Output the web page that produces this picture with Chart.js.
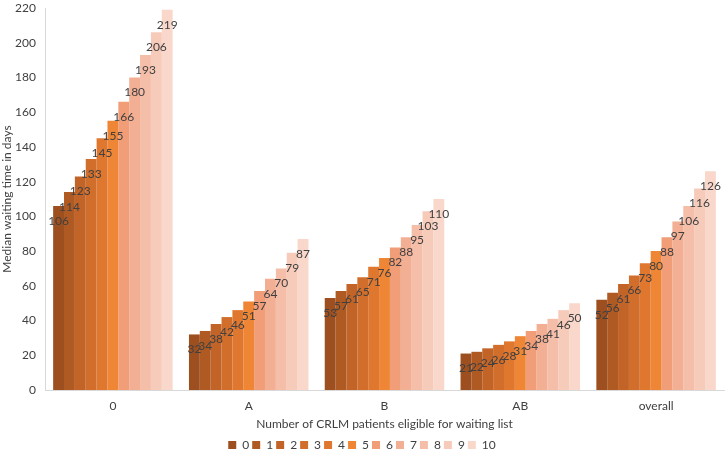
<!DOCTYPE html>
<html>
<head>
<meta charset="utf-8">
<script src="https://cdn.jsdelivr.net/npm/chart.js@4/dist/chart.umd.min.js"></script>
<style>
  html, body { margin: 0; padding: 0; background: #fff; }
  #wrap { width: 728px; height: 453px; }
</style>
</head>
<body>
<div id="wrap"><canvas id="waiting_chart" width="728" height="453"></canvas></div>
<script>
var categories = ['0', 'A', 'B', 'AB', 'overall']
var seriesNames = ['0', '1', '2', '3', '4', '5', '6', '7', '8', '9', '10']
// one array per series (legend item), values per category
var s0 = [106, 32, 53, 21, 52]
var s1 = [114, 34, 57, 22, 56]
var s2 = [123, 38, 61, 24, 61]
var s3 = [133, 42, 65, 26, 66]
var s4 = [145, 46, 71, 28, 73]
var s5 = [155, 51, 76, 31, 80]
var s6 = [166, 57, 82, 34, 88]
var s7 = [180, 64, 88, 38, 97]
var s8 = [193, 70, 95, 41, 106]
var s9 = [206, 79, 103, 46, 116]
var s10 = [219, 87, 110, 50, 126]
var seriesValues = [s0, s1, s2, s3, s4, s5, s6, s7, s8, s9, s10]
var cores = ['#9E4F1F', '#B05A23', '#C26427', '#D26E2B', '#E0772F', '#EE8635',
             '#F19E78', '#F3AF94', '#F5BEA9', '#F7CBBA', '#F9D7CB']

var fontFamily = 'Lato, "Liberation Sans", sans-serif'
var textColor = '#404040'

// draws the value just inside the top of every bar
var valueLabels = {
    id: 'valueLabels',
    afterDatasetsDraw: function(chart) {
        var ctx = chart.ctx
        ctx.save()
        ctx.font = '12px ' + fontFamily
        ctx.fillStyle = textColor
        ctx.textAlign = 'center'
        ctx.textBaseline = 'middle'
        chart.data.datasets.forEach(function(ds, i) {
            var meta = chart.getDatasetMeta(i)
            meta.data.forEach(function(bar, j) {
                ctx.fillText(ds.data[j], bar.x, bar.y + 15)
            })
        })
        ctx.restore()
    }
}

var datasets = []
for (var i = 0; i < seriesNames.length; ++i) {
    datasets.push({
        label: seriesNames[i],
        data: seriesValues[i],
        backgroundColor: cores[i],
        borderWidth: 0,
        barPercentage: 1.0,
        categoryPercentage: 0.88
    })
}

var ctx = document.getElementById('waiting_chart')
var chartBar = new Chart(ctx, {
    type: 'bar',
    data: {
        labels: categories,
        datasets: datasets
    },
    options: {
        responsive: false,
        animation: false,
        devicePixelRatio: 1,
        layout: { padding: { left: 0, right: 4, top: 0, bottom: -8 } },
        plugins: {
            legend: {
                position: 'bottom',
                labels: {
                    boxWidth: 8,
                    boxHeight: 8,
                    padding: 3,
                    color: textColor,
                    font: { family: fontFamily, size: 12 }
                }
            },
            tooltip: { enabled: false }
        },
        scales: {
            x: {
                grid: { display: false, drawTicks: false },
                border: { color: '#D9D9D9' },
                afterFit: function(scale) { scale.height = 46 },
                ticks: {
                    color: textColor,
                    padding: 9,
                    font: { family: fontFamily, size: 12 }
                },
                title: {
                    display: true,
                    text: 'Number of CRLM patients eligible for waiting list',
                    color: textColor,
                    padding: { top: 0, bottom: 5 },
                    font: { family: fontFamily, size: 12 }
                }
            },
            y: {
                min: 0,
                max: 220,
                grid: { display: false, drawTicks: false },
                border: { color: '#D9D9D9' },
                afterFit: function(scale) {
                    scale.width = 45
                    scale.paddingTop = 8
                },
                ticks: {
                    stepSize: 20,
                    color: textColor,
                    padding: 9,
                    font: { family: fontFamily, size: 12 }
                },
                title: {
                    display: true,
                    text: 'Median waiting time in days',
                    color: textColor,
                    padding: { top: 0, bottom: 2 },
                    font: { family: fontFamily, size: 12 }
                }
            }
        }
    },
    plugins: [valueLabels]
})
</script>
</body>
</html>
